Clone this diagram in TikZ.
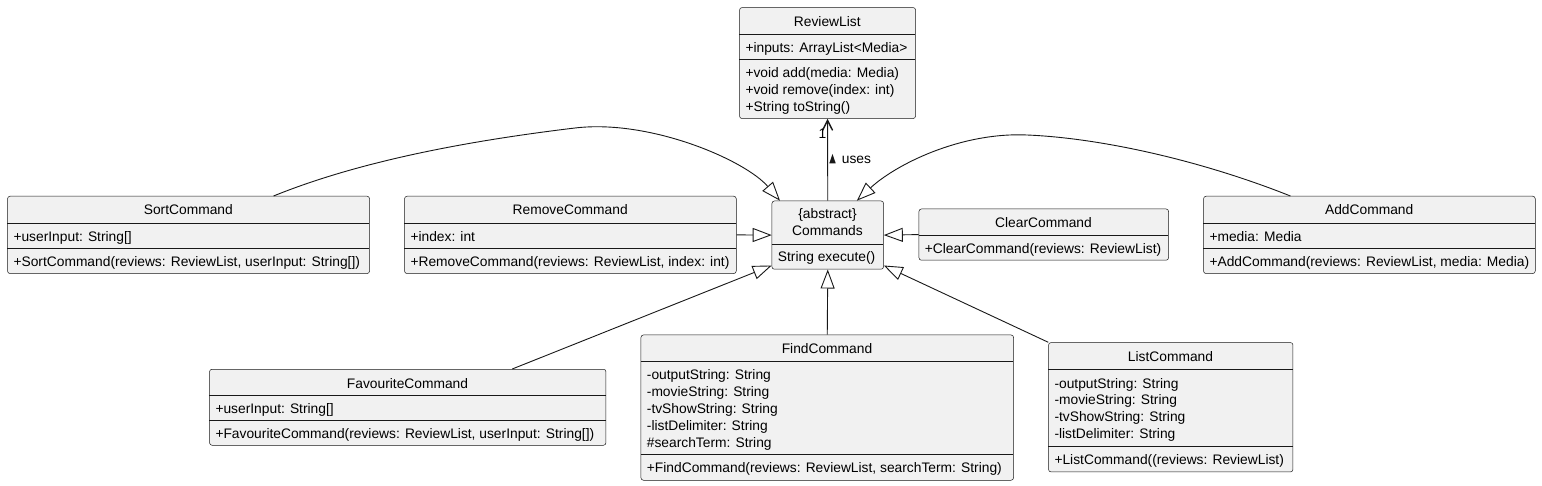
\documentclass[tikz,border=0pt]{standalone}
\usepackage{fontspec}
\setmainfont{Liberation Sans}
\usepackage{tikz}
\usetikzlibrary{arrows.meta}
\usetikzlibrary{positioning}
\definecolor{classfill}{HTML}{F1F1F1}
\definecolor{classline}{HTML}{181818}
\tikzset{cls/.style = {draw = classline, fill = classfill, line width = 0.5, rounded corners = 2.5, anchor = north west, inner sep = 0}}
\tikzset{sep/.style = {draw = classline, line width = 0.5}}
\tikzset{title/.style = {anchor = base, inner sep = 0, font = \fontsize{13.8}{17}\selectfont}}
\tikzset{member/.style = {anchor = base west, inner sep = 0, font = \fontsize{13.8}{17}\selectfont}}
\tikzset{ext/.style = {draw = classline, line width = 0.9, -{Triangle[open, length = 19, width = 14]}}}
\tikzset{uses/.style = {draw = classline, line width = 0.9, -{Straight Barb[length = 10, width = 10, line width = 1.4]}}}

\begin{document}
\begin{tikzpicture}[x = 1pt, y = -1pt]
    \fill [white] (0, 0) rectangle (1542, 486);
    \useasboundingbox (0, 0) rectangle (1542, 486);

    % ReviewList
    \node [cls, minimum width = 176, minimum height = 111] (rl) at (739.3, 7.3) {};
    \node [title] (rlname) at (827.3, 26.3) {ReviewList};
    \draw [sep] (739.3, 34) -- (915.3, 34);
    \draw [sep] (739.3, 59.7) -- (915.3, 59.7);
    \node [member] (rlattr) at (745.3, 52.5) {+inputs: ArrayList<Media>};
    \foreach \m [count = \i] in {+void add(media: Media), +void remove(index: int), +String toString()}{
      \node [member] (rlop\i) at (745.3, 60 + 17.2 * \i) {\m};
    }

    % Commands
    \node [cls, minimum width = 111.6, minimum height = 68.3] (cmd) at (771.7, 200.7) {};
    \node [title] (cmdtag) at (827.5, 218.3) {\{abstract\}};
    \node [title] (cmdname) at (827.5, 235.7) {Commands};
    \draw [sep] (771.7, 244) -- (883.3, 244);
    \node [member] (cmdop) at (777.7, 261.5) {String execute()};

    % SortCommand
    \node [cls, minimum width = 362, minimum height = 77.3] (sort) at (7.3, 196) {};
    \node [title] (sortname) at (188.3, 215) {SortCommand};
    \draw [sep] (7.3, 223.3) -- (369.3, 223.3);
    \draw [sep] (7.3, 248.3) -- (369.3, 248.3);
    \node [member] (sortattr) at (13.3, 242) {+userInput: String[]};
    \node [member] (sortop) at (13.3, 267) {+SortCommand(reviews: ReviewList, userInput: String[])};

    % RemoveCommand
    \node [cls, minimum width = 331.7, minimum height = 77.3] (rm) at (404.3, 196) {};
    \node [title] (rmname) at (570.2, 215) {RemoveCommand};
    \draw [sep] (404.3, 223.3) -- (736, 223.3);
    \draw [sep] (404.3, 248.3) -- (736, 248.3);
    \node [member] (rmattr) at (410.3, 242) {+index: int};
    \node [member] (rmop) at (410.3, 267) {+RemoveCommand(reviews: ReviewList, index: int)};

    % ClearCommand
    \node [cls, minimum width = 249.6, minimum height = 51.3] (clr) at (918.7, 208.7) {};
    \node [title] (clrname) at (1043.5, 227.7) {ClearCommand};
    \draw [sep] (918.7, 235) -- (1168.3, 235);
    \node [member] (clrop) at (924.7, 253.7) {+ClearCommand(reviews: ReviewList)};

    % AddCommand
    \node [cls, minimum width = 331.7, minimum height = 77.3] (add) at (1203.3, 196) {};
    \node [title] (addname) at (1369.2, 215) {AddCommand};
    \draw [sep] (1203.3, 223.3) -- (1535, 223.3);
    \draw [sep] (1203.3, 248.3) -- (1535, 248.3);
    \node [member] (addattr) at (1209.3, 242) {+media: Media};
    \node [member] (addop) at (1209.3, 267) {+AddCommand(reviews: ReviewList, media: Media)};

    % FavouriteCommand
    \node [cls, minimum width = 396.4, minimum height = 76] (fav) at (209.3, 369) {};
    \node [title] (favname) at (407.5, 388) {FavouriteCommand};
    \draw [sep] (209.3, 395) -- (605.7, 395);
    \draw [sep] (209.3, 420) -- (605.7, 420);
    \node [member] (favattr) at (215.3, 413.7) {+userInput: String[]};
    \node [member] (favop) at (215.3, 438.7) {+FavouriteCommand(reviews: ReviewList, userInput: String[])};

    % FindCommand
    \node [cls, minimum width = 372.6, minimum height = 145.3] (find) at (640.7, 334.7) {};
    \node [title] (findname) at (827, 353.7) {FindCommand};
    \draw [sep] (640.7, 361.7) -- (1013.3, 361.7);
    \draw [sep] (640.7, 454) -- (1013.3, 454);
    \foreach \a [count = \i] in {-outputString: String, -movieString: String, -tvShowString: String, -listDelimiter: String, \#searchTerm: String}{
      \node [member] (findattr\i) at (646.7, 362.3 + 17.1 * \i) {\a};
    }
    \node [member] (findop) at (646.7, 472.7) {+FindCommand(reviews: ReviewList, searchTerm: String)};

    % ListCommand
    \node [cls, minimum width = 244.4, minimum height = 129.4] (lst) at (1048.3, 342.3) {};
    \node [title] (lstname) at (1170.5, 361.3) {ListCommand};
    \draw [sep] (1048.3, 369) -- (1292.7, 369);
    \draw [sep] (1048.3, 446) -- (1292.7, 446);
    \foreach \a [count = \i] in {-outputString: String, -movieString: String, -tvShowString: String, -listDelimiter: String}{
      \node [member] (lstattr\i) at (1054.3, 371.3 + 16.7 * \i) {\a};
    }
    \node [member] (lstop) at (1054.3, 464) {+ListCommand((reviews: ReviewList)};

    % relations
    \draw [uses] (cmd.north) -- (rl.south);
    \node [anchor = base east, inner sep = 0, font = \fontsize{13.8}{17}\selectfont] (mult) at (826.5, 139) {1};
    \node [member] (useslbl) at (841.7, 163.3) {uses};
    \fill [classline] (829.3, 163.3) -- (835.7, 163.3) -- (832.5, 154) -- cycle;

    \draw [ext] ([xshift = 85] sort.north) .. controls (350, 165) and (450, 143) .. (575, 128)
      .. controls (650, 119) and (745, 160) .. ([xshift = 8.3] cmd.north west);
    \draw [ext] ([xshift = -79] add.north) .. controls (1200, 160) and (1100, 138) .. (1027, 135)
      .. controls (960, 132) and (895, 165) .. ([xshift = -27] cmd.north east);
    \draw [ext] (rm.east) -- (cmd.west);
    \draw [ext] (clr.west) -- (cmd.east);
    \draw [ext] (find.north) -- (cmd.south);
    \draw [ext] ([xshift = 104.5] fav.north) -- ([yshift = 4] cmd.south west);
    \draw [ext] (lst.north west) -- ([yshift = 4] cmd.south east);
\end{tikzpicture}
\end{document}
